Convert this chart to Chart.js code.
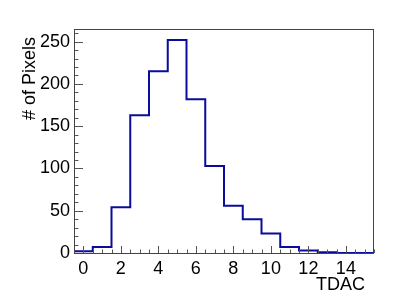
<!DOCTYPE html>
<html>
<head>
<meta charset="utf-8">
<script src="https://cdn.jsdelivr.net/npm/chart.js@4/dist/chart.umd.min.js"></script>
<style>
  html, body { margin: 0; padding: 0; background: #fff; }
  #wrap { width: 415px; height: 298px; }
</style>
</head>
<body>
<div id="wrap"><canvas id="c" width="415" height="298"></canvas></div>
<script>
// ---- data ----
const binCenters = [0, 1, 2, 3, 4, 5, 6, 7, 8, 9, 10, 11, 12, 13, 14, 15];
const counts     = [2, 7, 54, 163, 215, 252, 182, 103, 56, 40, 23, 7, 3, 1, 0, 0];
const xTickValues = [0, 2, 4, 6, 8, 10, 12, 14];
const yTickValues = [0, 50, 100, 150, 200, 250];
const xTitle = 'TDAC';
const yTitle = '# of Pixels';

// step outline: points at the left edge of each bin, plus the final right edge
const stepPoints = binCenters.map((c, i) => ({ x: c - 0.5, y: counts[i] }));
stepPoints.push({ x: binCenters[binCenters.length - 1] + 0.5, y: counts[counts.length - 1] });

const FONT = 'Liberation Sans, Arial, Helvetica, sans-serif';

const rootFrame = {
  id: 'rootFrame',
  afterDraw(chart) {
    const ctx = chart.ctx;
    const a = chart.chartArea;
    const xs = chart.scales.x, ys = chart.scales.y;
    ctx.save();
    // ticks (inside the frame)
    ctx.strokeStyle = '#555';
    ctx.lineWidth = 1;
    ctx.beginPath();
    for (let v = -0.5; v <= 15.5 + 1e-9; v += 0.5) {
      const major = Math.abs(v % 2) < 1e-9;
      const px = Math.round(xs.getPixelForValue(v)) + 0.5;
      const len = major ? 7 : 3.5;
      ctx.moveTo(px, a.bottom);
      ctx.lineTo(px, a.bottom - len);
    }
    for (let v = 0; v <= 260 + 1e-9; v += 10) {
      const major = v % 50 === 0;
      const py = Math.round(ys.getPixelForValue(v)) + 0.5;
      const len = major ? 9 : 4.5;
      ctx.moveTo(a.left, py);
      ctx.lineTo(a.left + len, py);
    }
    ctx.stroke();
    // frame
    ctx.strokeStyle = '#444';
    ctx.strokeRect(Math.round(a.left) + 0.5, Math.round(a.top) + 0.5,
                   Math.round(a.right - a.left) - 1, Math.round(a.bottom - a.top));
    // titles
    ctx.fillStyle = '#000';
    ctx.font = '18px ' + FONT;
    ctx.textAlign = 'right';
    ctx.textBaseline = 'alphabetic';
    ctx.fillText(xTitle, 365, 290);
    ctx.translate(35, 37);
    ctx.rotate(-Math.PI / 2);
    ctx.fillText(yTitle, 0, 0);
    ctx.restore();
  }
};

new Chart(document.getElementById('c'), {
  type: 'scatter',
  data: {
    datasets: [{
      data: stepPoints,
      showLine: true,
      stepped: 'before',
      borderColor: '#0b0b9c',
      borderWidth: 2,
      pointRadius: 0,
      fill: false
    }]
  },
  options: {
    responsive: false,
    animation: false,
    devicePixelRatio: 1,
    layout: { padding: { top: 29, right: 41, left: 0, bottom: 0 } },
    plugins: { legend: { display: false }, tooltip: { enabled: false } },
    scales: {
      x: {
        type: 'linear',
        min: -0.5, max: 15.5,
        afterBuildTicks: s => { s.ticks = xTickValues.map(v => ({ value: v })); },
        afterFit: s => { s.height = 45; },
        grid: { display: false, drawTicks: false },
        border: { display: false },
        ticks: { color: '#000', font: { family: FONT, size: 18 }, padding: 5, maxRotation: 0, autoSkip: false }
      },
      y: {
        type: 'linear',
        min: 0, max: 265,
        afterBuildTicks: s => { s.ticks = yTickValues.map(v => ({ value: v })); },
        afterFit: s => { s.width = 74; },
        grid: { display: false, drawTicks: false },
        border: { display: false },
        ticks: { color: '#000', font: { family: FONT, size: 18 }, padding: 4, autoSkip: false }
      }
    }
  },
  plugins: [rootFrame]
});
</script>
</body>
</html>
